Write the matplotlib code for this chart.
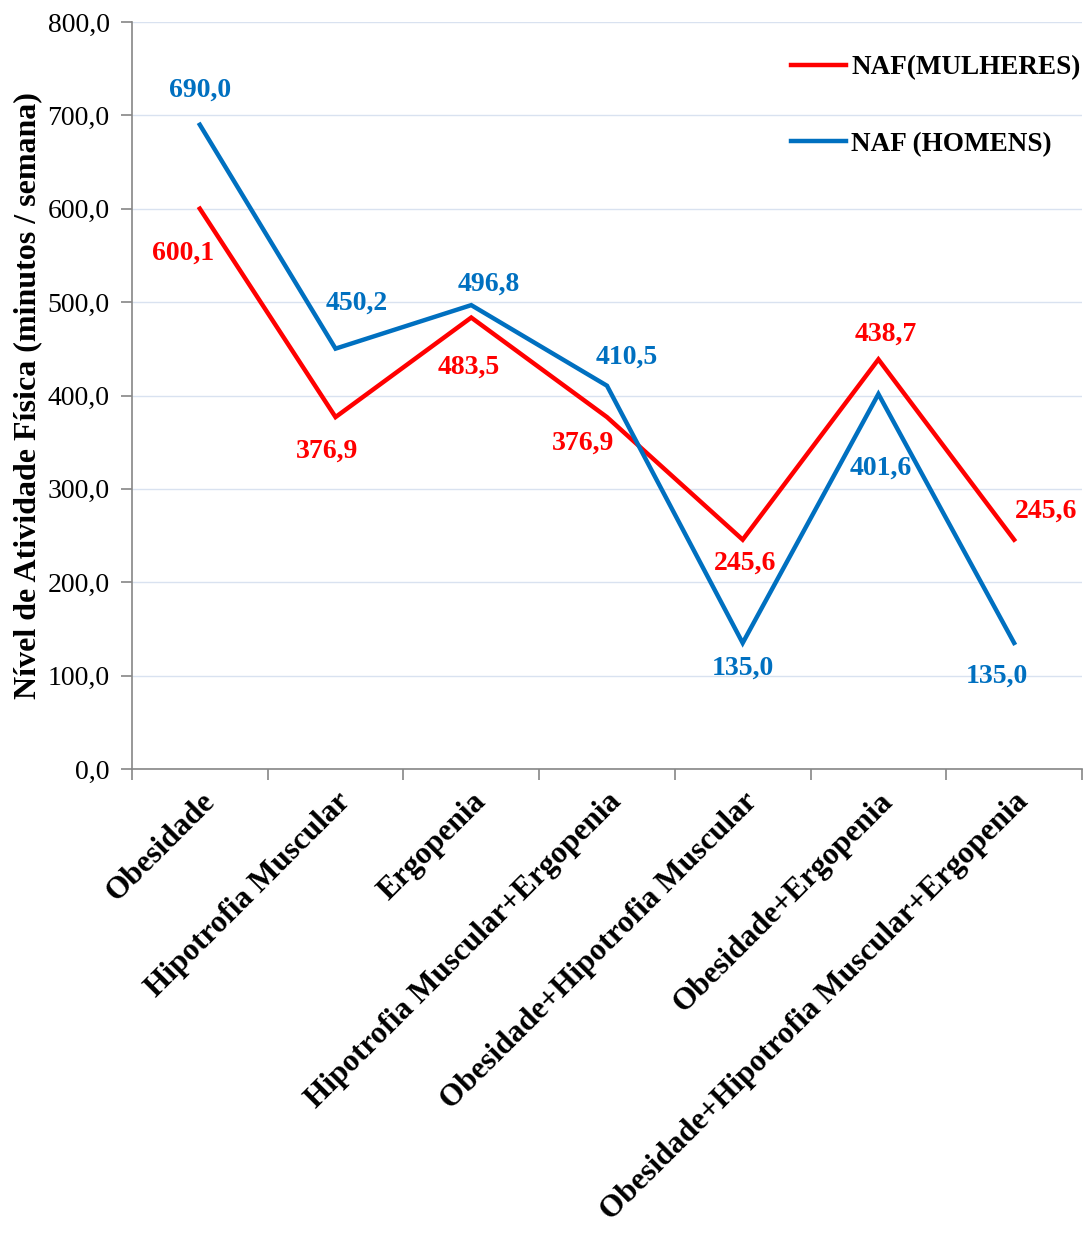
import matplotlib
matplotlib.use("Agg")
import matplotlib.pyplot as plt
from matplotlib.ticker import FuncFormatter, MultipleLocator

categories = [
    "Obesidade",
    "Hipotrofia Muscular",
    "Ergopenia",
    "Hipotrofia Muscular+Ergopenia",
    "Obesidade+Hipotrofia Muscular",
    "Obesidade+Ergopenia",
    "Obesidade+Hipotrofia Muscular+Ergopenia",
]
naf_mulheres = [600.1, 376.9, 483.5, 376.9, 245.6, 438.7, 245.6]
naf_homens = [690.0, 450.2, 496.8, 410.5, 135.0, 401.6, 135.0]

RED = "#FF0000"
BLUE = "#0070C0"
SERIF = ["Liberation Serif", "DejaVu Serif"]

plt.rcParams["font.family"] = SERIF

fig = plt.figure(figsize=(10.86, 12.36), dpi=100)
ax = fig.add_axes([0.1215, 0.3778, 0.8748, 0.6044])

x = list(range(len(categories)))
ax.plot(x, naf_mulheres, color=RED, lw=3.2, label="NAF(MULHERES)", zorder=3,
        solid_joinstyle="miter")
ax.plot(x, naf_homens, color=BLUE, lw=3.2, label="NAF (HOMENS)", zorder=3,
        solid_joinstyle="miter")

ax.set_xlim(-0.5, len(categories) - 0.5)
ax.set_ylim(0, 800)
ax.yaxis.set_major_locator(MultipleLocator(100))
ax.yaxis.set_major_formatter(FuncFormatter(lambda v, p: f"{v:.1f}".replace(".", ",")))
ax.grid(axis="y", color="#D9E2F0", lw=1.0, zorder=0)
ax.set_axisbelow(True)

for s in ("top", "right"):
    ax.spines[s].set_visible(False)
for s in ("left", "bottom"):
    ax.spines[s].set_color("#868686")
    ax.spines[s].set_linewidth(1.2)

# category ticks sit between the groups; labels at group centres
ax.set_xticks([i - 0.5 for i in range(len(categories) + 1)])
ax.set_xticklabels([])
ax.set_xticks(x, minor=True)
ax.set_xticklabels(categories, minor=True, rotation=45, ha="right",
                   rotation_mode="anchor", fontsize=22.5, fontweight="bold")
ax.tick_params(axis="x", which="minor", length=0, pad=13)
ax.tick_params(axis="x", which="major", length=8, width=1.2, color="#868686")
ax.tick_params(axis="y", length=8, width=1.2, color="#868686", labelsize=20, pad=8)

ax.set_ylabel("Nível de Atividade Física (minutos / semana)", fontsize=23,
              fontweight="bold", labelpad=4)

def fmt(v):
    return f"{v:.1f}".replace(".", ",")

# label offsets in pixels relative to each point
off_mulheres = [(-17, -45), (-8, -34), (-2, -50), (-24, -26), (2, -23), (7, 25), (32, 29)]
off_homens = [(0, 35), (21, 45), (18, 21), (20, 29), (0, -25), (2, -74), (-17, -33)]

for i in x:
    ax.annotate(fmt(naf_mulheres[i]), (i, naf_mulheres[i]), xytext=off_mulheres[i],
                textcoords="offset pixels", ha="center", va="center",
                color=RED, fontsize=20, fontweight="bold", zorder=4)
    ax.annotate(fmt(naf_homens[i]), (i, naf_homens[i]), xytext=off_homens[i],
                textcoords="offset pixels", ha="center", va="center",
                color=BLUE, fontsize=20, fontweight="bold", zorder=4)

leg = ax.legend(loc="upper right", bbox_to_anchor=(1.024, 0.988), frameon=False,
                prop={"family": SERIF, "weight": "bold", "size": 19.5},
                handlelength=2.0, handletextpad=0.2, labelspacing=1.9)

fig.savefig("out.png", dpi=100, facecolor="white")
